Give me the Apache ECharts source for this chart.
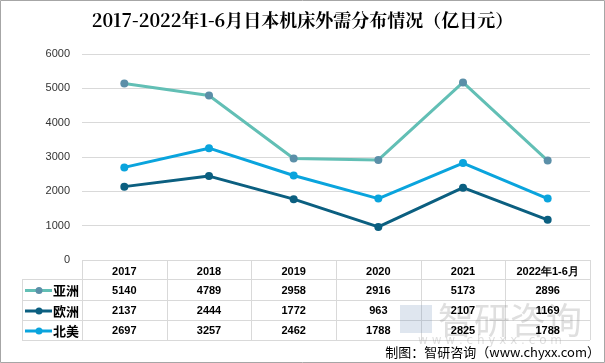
<!DOCTYPE html>
<html><head><meta charset="utf-8">
<script src="https://cdn.jsdelivr.net/npm/echarts@6/dist/echarts.min.js"></script>
<style>html,body{margin:0;padding:0;background:#fff}#c{width:605px;height:363px}</style>
</head><body><div id="c"></div>
<script>
const categories = ['2017','2018','2019','2020','2021','2022年1-6月'];
const asia = [5140, 4789, 2958, 2916, 5173, 2896];
const europe = [2137, 2444, 1772, 963, 2107, 1169];
const northAmerica = [2697, 3257, 2462, 1788, 2825, 1788];
const seriesNames = ['亚洲','欧洲','北美'];
const yTicks = [0,1000,2000,3000,4000,5000,6000];

const W = 605, H = 363;
const gl = 82, gr = 590, gt = 54, gb = 260;
const rowY = [260, 279, 300, 320, 340];
const lineColors = ['#62bfb5', '#0b5f80', '#0aa4dd'];
const markerColors = ['#5b8fa8', '#0b5f80', '#0aa4dd'];
const allData = [asia, europe, northAmerica];

const chart = echarts.init(document.getElementById('c'));
const graphics = [];
graphics.push({type:'rect', shape:{x:0.5,y:0.5,width:W-1,height:H-1}, style:{fill:'none', stroke:'#a6a6a6', lineWidth:1}, z:100});
const n = categories.length;
const bw = (gr - gl) / n;
graphics.push({type:'line', shape:{x1:gl,y1:rowY[0]+0.5,x2:gr,y2:rowY[0]+0.5}, style:{stroke:'#d9d9d9',lineWidth:1}});
for (let i=1;i<rowY.length;i++) graphics.push({type:'line', shape:{x1:22,y1:rowY[i]+0.5,x2:gr,y2:rowY[i]+0.5}, style:{stroke:'#d9d9d9',lineWidth:1}});
graphics.push({type:'line', shape:{x1:22.5,y1:rowY[1],x2:22.5,y2:rowY[4]}, style:{stroke:'#d9d9d9',lineWidth:1}});
for (let i=0;i<=n;i++){ const x=Math.round(gl+i*bw)+0.5; graphics.push({type:'line', shape:{x1:x,y1:rowY[0],x2:x,y2:rowY[4]}, style:{stroke:'#d9d9d9',lineWidth:1}}); }
// watermark (behind text)
graphics.push({type:'rect', shape:{x:400,y:305,width:32,height:28}, style:{fill:'rgba(110,140,180,0.22)'}, z:0});
graphics.push({type:'text', x:510, y:320, style:{text:'智研咨询', font:'36px "Noto Sans CJK SC"', fill:'rgba(140,140,140,0.28)', align:'center', verticalAlign:'middle'}, z:0});
graphics.push({type:'text', x:490, y:341, style:{text:'w w w . c h y x x . c o m', font:'12px "DejaVu Sans"', fill:'rgba(150,150,150,0.3)', align:'center', verticalAlign:'middle'}, z:0});
allData.forEach((arr, r) => {
  const cy = (rowY[r+1] + rowY[r+2]) / 2 + 1;
  graphics.push({type:'line', shape:{x1:25,y1:cy,x2:52,y2:cy}, style:{stroke:lineColors[r], lineWidth:3}, z:10});
  graphics.push({type:'circle', shape:{cx:39,cy:cy,r:3.5}, style:{fill:markerColors[r]}, z:10});
  graphics.push({type:'text', x:53, y:cy, style:{text:seriesNames[r], font:'bold 13px "Noto Sans CJK SC"', fill:'#000', verticalAlign:'middle'}, z:10});
  arr.forEach((v, i) => {
    graphics.push({type:'text', x:gl+(i+0.5)*bw, y:cy, style:{text:String(v), font:'bold 11px "Liberation Sans", Arial', fill:'#000', align:'center', verticalAlign:'middle'}, z:10});
  });
});
graphics.push({type:'text', x:600, y:352, style:{text:'制图：智研咨询（www.chyxx.com）', font:'13px "Noto Sans CJK SC"', fill:'#000', align:'right', verticalAlign:'middle'}, z:60});

chart.setOption({
  animation:false,
  title:{text:'2017-2022年1-6月日本机床外需分布情况（亿日元）', left:'center', top:6,
    textStyle:{fontFamily:'"Noto Serif CJK SC","Noto Sans CJK SC"', fontSize:18, fontWeight:'bold', color:'#000'}},
  grid:{left:gl, right:W-gr, top:gt, bottom:H-gb},
  xAxis:{type:'category', data:categories, boundaryGap:true,
    axisLine:{show:false}, axisTick:{show:false},
    axisLabel:{margin:6, fontSize:11, fontWeight:'bold', color:'#000', fontFamily:'"Liberation Sans", Arial', interval:0}},
  yAxis:{type:'value', min:0, max:6000, interval:1000,
    axisLabel:{margin:12, fontSize:11, color:'#333', fontFamily:'"Liberation Sans", Arial', formatter: v => String(v)},
    splitLine:{lineStyle:{color:'#d9d9d9'}}, axisLine:{show:false}, axisTick:{show:false}},
  series: allData.map((arr, r) => ({
    name:seriesNames[r], type:'line', data:arr, symbol:'circle', symbolSize:8,
    lineStyle:{color:lineColors[r], width:3}, itemStyle:{color:markerColors[r]}
  })),
  graphic: graphics
});
</script></body></html>
